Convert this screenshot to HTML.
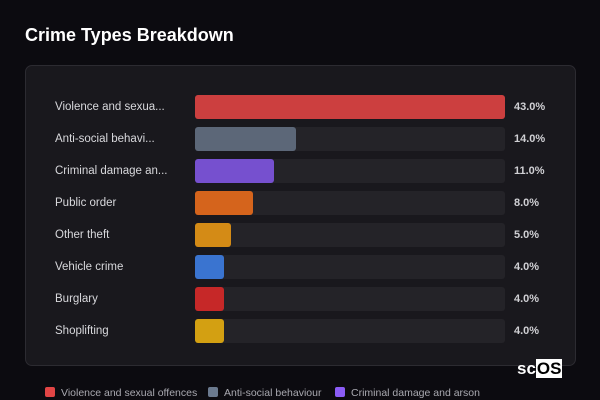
<!DOCTYPE html>
<html><head><meta charset="utf-8">
<style>
html,body{margin:0;padding:0;width:600px;height:400px;overflow:hidden;background:#0c0b10;font-family:"Liberation Sans","DejaVu Sans",sans-serif;}
.title{position:absolute;left:25px;top:25px;font-size:18px;font-weight:bold;color:#fff;}
.card{position:absolute;left:25px;top:65px;width:549px;height:299px;border:1px solid #2c2b31;border-radius:7px;background:#19181d;}
.lbl{position:absolute;left:55px;font-size:11.5px;color:#d8d8dc;height:24px;line-height:24px;white-space:nowrap;}
.track{position:absolute;left:195px;width:310px;height:24px;border-radius:3px;background:#242328;}
.bar{position:absolute;left:195px;height:24px;border-radius:3px;}
.val{position:absolute;left:514px;font-size:11px;font-weight:bold;color:#d0d0d4;height:24px;line-height:24px;}
.leg{position:absolute;top:387px;font-size:10.5px;color:#a9a9b0;white-space:nowrap;}
.leg i{display:inline-block;width:10px;height:10px;border-radius:2px;margin-right:6px;vertical-align:-1px;}
.logo{position:absolute;left:517px;top:359px;font-size:17px;font-weight:bold;color:#fff;}
.logo span{background:#fff;color:#000;padding:0 1px;}
</style></head><body>
<div class="title">Crime Types Breakdown</div>
<div class="card"></div>
<div id="rows"></div>
<div class="leg" style="left:45px"><i style="background:#e24545"></i>Violence and sexual offences</div>
<div class="leg" style="left:208px"><i style="background:#6b7a8f"></i>Anti-social behaviour</div>
<div class="leg" style="left:335px"><i style="background:#8b5cf6"></i>Criminal damage and arson</div>
<div class="logo">sc<span>OS</span></div>
<script>
const categories=["Violence and sexua...","Anti-social behavi...","Criminal damage an...","Public order","Other theft","Vehicle crime","Burglary","Shoplifting"];
const values=[43,14,11,8,5,4,4,4];
const colors=["#cc3f3f","#5c6778","#7650cf","#d5641c","#d48b16","#3a74d0","#c62828","#d3a012"];
const maxV=Math.max(...values);
const x=v=>v/maxV*310;
const root=document.getElementById('rows');
categories.forEach((c,i)=>{
  const top=95+i*32;
  const l=document.createElement('div');l.className='lbl';l.style.top=top+'px';l.textContent=c;
  
  
  const t=document.createElement('div');t.className='track';t.style.top=top+'px';
  
  
  const b=document.createElement('div');b.className='bar';b.style.top=top+'px';b.style.width=x(values[i])+'px';b.style.background=colors[i];
  
  
  const v=document.createElement('div');v.className='val';v.style.top=top+'px';v.textContent=values[i].toFixed(1)+'%';
  
  
  root.append(l,t,b,v);
});
</script>
</body></html>
